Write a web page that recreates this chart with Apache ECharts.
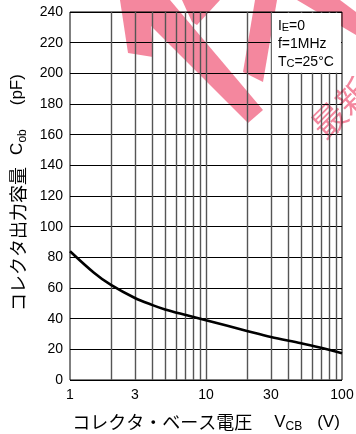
<!DOCTYPE html>
<html><head><meta charset="utf-8">
<script src="https://cdn.jsdelivr.net/npm/echarts@6/dist/echarts.min.js"></script>
<style>html,body{margin:0;padding:0;background:#fff}#c{width:356px;height:434px}</style>
</head><body><div id="c"></div>
<script>
// ---- data ----
const vcb = [1, 1.5, 2, 3, 4, 5, 7, 10, 20, 30, 50, 70, 100];
const cob = [84, 70, 62, 53.5, 49, 46, 42.5, 39, 32, 28, 24, 21, 17.5];
const xTickLabels = [1, 3, 10, 30, 100];
const xGridValues = [2, 3, 4, 5, 6, 7, 8, 9, 10, 20, 30, 40, 50, 60, 70, 80, 90];
const yMin = 0, yMax = 240, yStep = 20;
const noteBox = { x0: 30, x1: 100, y0: 200, y1: 240 };
const noteLines = ['I{s|E}=0', 'f=1MHz', 'T{s|C}=25°C'];

const LATIN = '"Liberation Sans", Arial, sans-serif';
const JP = '"Noto Sans CJK JP", sans-serif';
const PINK = '#f4879e';

const chart = echarts.init(document.getElementById('c'), null, { renderer: 'canvas' });

const watermark = [
  { type: 'polygon', z: -5, shape: { points: [[120,0],[148,0],[151,25],[153,57],[128,53]] }, style: { fill: PINK } },
  { type: 'polygon', z: -5, shape: { points: [[125,0],[170,0],[263,110],[248,123]] }, style: { fill: PINK } },
  { type: 'polygon', z: -5, shape: { points: [[182,0],[220,0],[197,25],[192,22]] }, style: { fill: PINK } },
  { type: 'polygon', z: -5, shape: { points: [[255,0],[277,0],[263,82],[243,72]] }, style: { fill: PINK } },
  { type: 'polygon', z: -5, shape: { points: [[297,0],[340,0],[356,12],[356,35]] }, style: { fill: PINK } },
  { type: 'text', z: -5, x: 341, y: 108, rotation: Math.PI / 4,
    style: { text: '最新', font: '34px ' + JP, fill: PINK, align: 'center', verticalAlign: 'middle' } }
];

const titleRich = {
  jp: { fontFamily: JP, fontSize: 18, color: '#000', lineHeight: 22 },
  jpy: { fontFamily: JP, fontSize: 18, color: '#000', lineHeight: 22, padding: [0, 0, 0, 7] },
  r: { fontFamily: LATIN, fontSize: 17, color: '#000', lineHeight: 22 },
  sub: { fontFamily: LATIN, fontSize: 12, color: '#000', lineHeight: 17, verticalAlign: 'bottom' },
  g12: { fontSize: 12, width: 12, lineHeight: 22 },
  g15: { fontSize: 12, width: 15, lineHeight: 22 },
  g22: { fontSize: 12, width: 22, lineHeight: 22 },
  g24: { fontSize: 12, width: 24, lineHeight: 22 }
};

const option = {
  animation: false,
  backgroundColor: '#fff',
  grid: { left: 70, right: 14, top: 12, bottom: 54, show: true, borderColor: '#000', borderWidth: 1,
    backgroundColor: 'transparent', containLabel: false, outerBoundsMode: 'none' },
  xAxis: {
    type: 'log', logBase: 10, min: 1, max: 100,
    axisLine: { show: false },
    axisTick: { show: false, customValues: xGridValues },
    axisLabel: { customValues: xTickLabels, fontFamily: LATIN, fontSize: 14, color: '#000', margin: 8,
      formatter: v => String(v) },
    splitLine: { show: true, lineStyle: { color: '#555', width: 1.4 } },
    name: '{jp|コレクタ・ベース電圧}{g22| }{r|V}{sub|CB}{g15| }{r|(V)}',
    nameLocation: 'middle', nameGap: 31,
    nameTextStyle: { rich: titleRich }
  },
  yAxis: {
    type: 'value', min: yMin, max: yMax, interval: yStep,
    axisLine: { show: false }, axisTick: { show: false },
    axisLabel: { fontFamily: LATIN, fontSize: 14, color: '#000', margin: 7 },
    splitLine: { show: true, lineStyle: { color: '#000', width: 1 } },
    name: '{jpy|コレクタ出力容量}{g12| }{r|C}{sub|ob}{g24| }{r|(pF)}',
    nameLocation: 'middle', nameRotate: 90, nameGap: 41,
    nameTextStyle: { rich: titleRich }
  },
  series: [{
    type: 'line', data: vcb.map((v, i) => [v, cob[i]]), smooth: 0.35, symbol: 'none',
    lineStyle: { color: '#000', width: 2.6 }, z: 3
  }],
  graphic: watermark
};
chart.setOption(option);

// note box positioned through the axes' scales
const p0 = chart.convertToPixel({ gridIndex: 0 }, [noteBox.x0, noteBox.y1]);
const p1 = chart.convertToPixel({ gridIndex: 0 }, [noteBox.x1, noteBox.y0]);
chart.setOption({
  graphic: watermark.concat([
    { type: 'rect', z: 20, shape: { x: p0[0] + 1, y: p0[1] + 1, width: p1[0] - p0[0] - 2, height: p1[1] - p0[1] - 1.5 },
      style: { fill: '#fff' } },
    { type: 'text', z: 21, x: p0[0] + 7, y: p0[1] + 5,
      style: {
        text: noteLines.join('\n'), font: '14px ' + LATIN, fill: '#000', lineHeight: 18,
        rich: { s: { fontFamily: LATIN, fontSize: 11, fill: '#000', lineHeight: 18, padding: [4, 0, 0, 0] } }
      } }
  ])
});
</script></body></html>
